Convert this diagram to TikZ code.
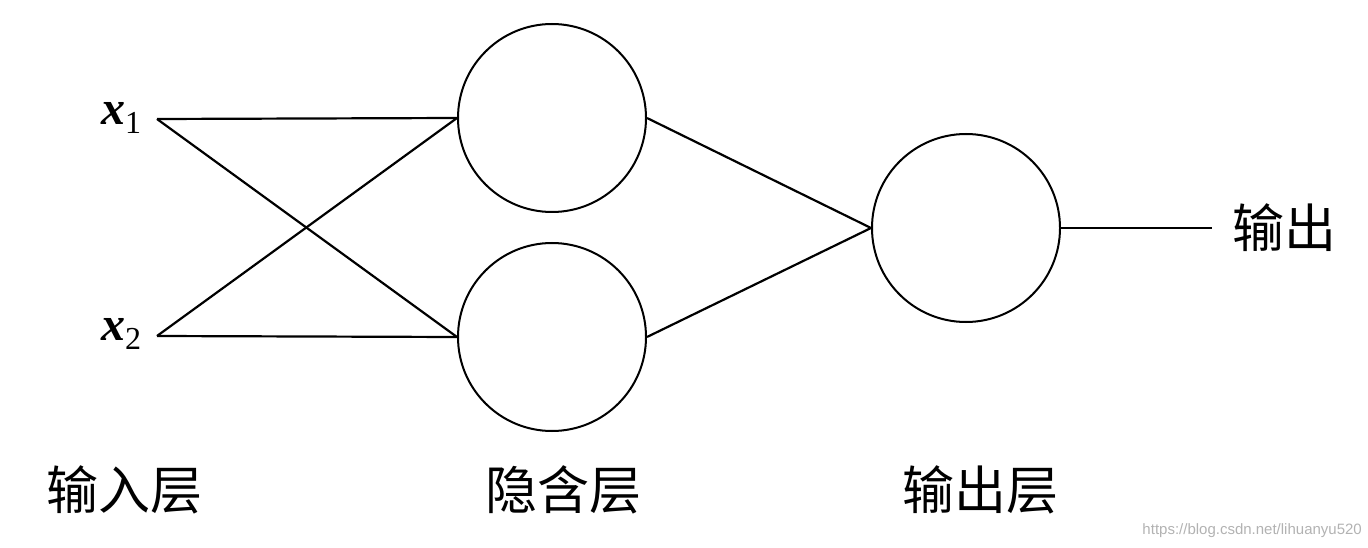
\documentclass[tikz,border=0pt]{standalone}
\usepackage{fontspec}
\newfontfamily\cjk{Noto Sans CJK SC}
\newfontfamily\wmfont{Liberation Sans}
\newfontfamily\serifx{Liberation Serif}
\newcommand{\invar}[1]{{\serifx\fontsize{48}{56}\selectfont\bfseries\itshape x}\raisebox{-9pt}{\serifx\fontsize{32}{38}\selectfont #1}}
\begin{document}
\begin{tikzpicture}[x=1pt,y=-1pt,
  neuron/.style={circle,draw,line width=2pt,minimum size=188pt,inner sep=0pt},
  conn/.style={line width=2.2pt},
  layerlabel/.style={font=\cjk\fontsize{52}{60}\selectfont,inner sep=0pt},
  inlabel/.style={inner sep=0pt}]
\useasboundingbox (0,0) rectangle (1368,548);
\node[neuron] (h1) at (552,118) {};
\node[neuron] (h2) at (552,337) {};
\node[neuron] (o) at (966,228) {};
\node[inlabel] (lx1) at (121,118) {\invar{1}};
\node[inlabel] (lx2) at (121,334) {\invar{2}};
\coordinate (in1) at (157,119);
\coordinate (in2) at (157,336);
\coordinate (outend) at (1212,228);
\draw[conn] (in1) -- (h1.west);
\draw[conn] (in1) -- (h2.west);
\draw[conn] (in2) -- (h1.west);
\draw[conn] (in2) -- (h2.west);
\draw[conn] (h1.east) -- (o.west);
\draw[conn] (h2.east) -- (o.west);
\draw[conn] (o.east) -- (outend);
\node[layerlabel,anchor=west] (outlbl) at (1232,228) {输出};
\node[layerlabel] (L1) at (124,490) {输入层};
\node[layerlabel] (L2) at (563,490) {隐含层};
\node[layerlabel] (L3) at (980,490) {输出层};
\node[font=\wmfont\fontsize{15}{18}\selectfont,text=black!30,anchor=east,inner sep=0pt] (wm) at (1362,531) {https://blog.csdn.net/lihuanyu520};
\end{tikzpicture}
\end{document}
